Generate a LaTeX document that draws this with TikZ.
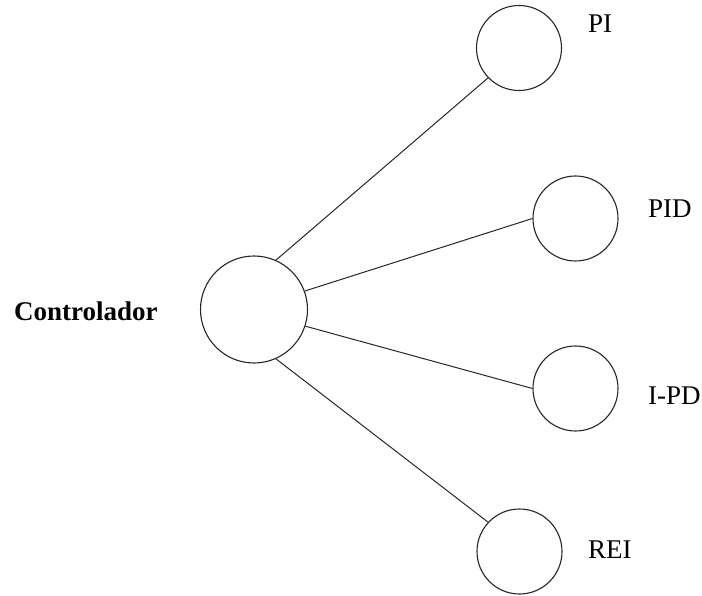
\documentclass[tikz,border=0pt]{standalone}
\usepackage{fontspec}
\setmainfont{Liberation Serif}
\begin{document}
\begin{tikzpicture}[x=1pt,y=-1pt,
  bigball/.style={draw=black!85,line width=1.1pt,circle,minimum size=107pt,inner sep=0pt},
  ball/.style={draw=black!85,line width=1.1pt,circle,minimum size=85pt,inner sep=0pt},
  lbl/.style={anchor=base west,inner sep=0pt,font=\fontsize{27}{30}\selectfont},
  link/.style={draw=black!85,line width=1pt}]
\useasboundingbox (0,0) rectangle (702,596);
% central controller node and its label
\node[bigball] (c) at (254,309.5) {};
\node[lbl,font=\fontsize{27}{30}\selectfont\bfseries] (tc) at (14,320) {Controlador};
% controller variants
\node[ball] (pi) at (519,48) {};
\node[ball] (pid) at (575.5,218.5) {};
\node[ball] (ipd) at (575.5,388.5) {};
\node[ball] (rei) at (519.5,551.5) {};
\node[lbl] (tpi) at (588,33) {PI};
\node[lbl] (tpid) at (648,218) {PID};
\node[lbl] (tipd) at (648,404) {I-PD};
\node[lbl] (trei) at (588,558) {REI};
% connections
\draw[link] (c.66) -- (pi.224);
\draw[link] (c.20) -- (pid.180);
\draw[link] (c.-18) -- (ipd.180);
\draw[link] (c.-66) -- (rei.137);
\end{tikzpicture}
\end{document}
